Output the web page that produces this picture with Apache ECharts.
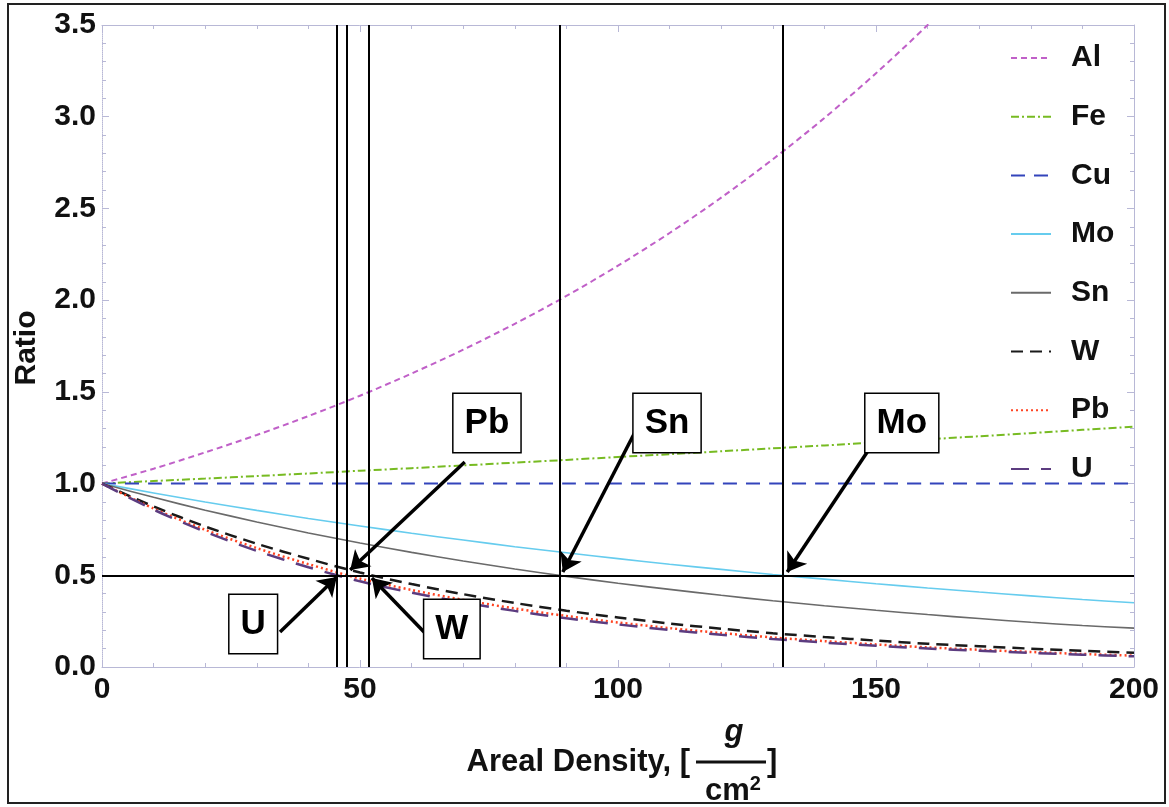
<!DOCTYPE html>
<html>
<head>
<meta charset="utf-8">
<script src="https://cdn.jsdelivr.net/npm/echarts@6/dist/echarts.min.js"></script>
<style>
html,body{margin:0;padding:0;background:#fff;}
#main{width:1169px;height:807px;}
</style>
</head>
<body>
<div id="main"></div>
<script>
// ---- data ----
var density = [0,10,20,30,40,50,60,70,80,90,100,110,120,130,140,150,160,170,180,190,200];
var Al = [1.000,1.081,1.170,1.265,1.368,1.479,1.600,1.730,1.871,2.023,2.188,2.366,2.559,2.768,2.993,3.237,3.500,3.786];
var Fe = [1.000,1.014,1.027,1.041,1.055,1.070,1.084,1.099,1.114,1.129,1.145,1.160,1.176,1.192,1.208,1.224,1.241,1.258,1.275,1.293,1.310];
var Cu = [1.000,1.000,1.000,1.000,1.000,1.000,1.000,1.000,1.000,1.000,1.000,1.000,1.000,1.000,1.000,1.000,1.000,1.000,1.000,1.000,1.000];
var Mo = [1.000,0.949,0.900,0.854,0.810,0.769,0.729,0.692,0.656,0.623,0.591,0.560,0.532,0.504,0.479,0.454,0.431,0.409,0.388,0.368,0.350];
var Sn = [1.000,0.925,0.855,0.791,0.731,0.676,0.625,0.578,0.534,0.494,0.457,0.423,0.391,0.361,0.334,0.309,0.286,0.264,0.244,0.226,0.212];
var W  = [1.000,0.875,0.766,0.672,0.590,0.515,0.452,0.397,0.349,0.307,0.270,0.237,0.209,0.184,0.163,0.144,0.127,0.113,0.100,0.088,0.078];
var Pb = [1.000,0.864,0.748,0.648,0.561,0.482,0.420,0.366,0.319,0.278,0.243,0.212,0.185,0.161,0.141,0.123,0.107,0.094,0.082,0.071,0.062];
var U  = [1.000,0.858,0.737,0.633,0.544,0.467,0.405,0.352,0.306,0.266,0.232,0.202,0.176,0.153,0.133,0.116,0.101,0.088,0.077,0.067,0.058];

// half-value thickness lines (x) and the 0.5 ratio line (y)
var halfLines = [45.5, 47.5, 51.7, 88.8, 132.0];
var halfRatio = 0.5;

// annotation labels and their arrows
var labelNames = ['Pb','Sn','Mo','U','W'];
var labelX = [74.6, 109.5, 155.0, 29.3, 67.8];
var labelY = [1.33, 1.33, 1.33, 0.235, 0.207];
var arrowFrom = [[70.3,1.118],[104.3,1.336],[148.3,1.172],[34.5,0.191],[62.6,0.185]];
var arrowTo   = [[48.1,0.529],[89.3,0.518],[132.8,0.518],[45.5,0.491],[52.3,0.485]];

var xTicks = [0,50,100,150,200];
var yTicks = [0,0.5,1,1.5,2,2.5,3,3.5];

// ---- chart ----
function pairs(vals){ return vals.map(function(v,i){ return [density[i], v]; }); }

var FONT = 'Liberation Sans';
var styles = {
  Al: {color:'#c060c8', type:[6,4], width:2},
  Fe: {color:'#77bb22', type:[8,3,2,3], width:2},
  Cu: {color:'#3344bb', type:[14,9], width:2},
  Mo: {color:'#66ccee', type:'solid', width:1.6},
  Sn: {color:'#6a6a6a', type:'solid', width:1.6},
  W:  {color:'#1a1a1a', type:[12,7], width:2.5},
  Pb: {color:'#ff4422', type:[2,3], width:2.5},
  U:  {color:'#5c3c80', type:[18,12], width:2.5}
};
var seriesData = {Al:Al, Fe:Fe, Cu:Cu, Mo:Mo, Sn:Sn, W:W, Pb:Pb, U:U};
var order = ['Al','Fe','Cu','Mo','Sn','W','Pb','U'];

var series = order.map(function(n){
  var st = styles[n];
  return {
    name:n, type:'line', data:pairs(seriesData[n]), smooth:0.3,
    symbol:'none', showSymbol:false, clip:true, z:3,
    lineStyle:{color:st.color, type:st.type, width:st.width},
    itemStyle:{color:st.color}
  };
});

// reference lines
series.push({
  name:'refs', type:'line', data:[], symbol:'none', z:4, silent:true,
  markLine:{
    symbol:'none', silent:true, animation:false,
    label:{show:false},
    lineStyle:{color:'#000', width:2, type:'solid'},
    data: halfLines.map(function(v){ return {xAxis:v}; }).concat([{yAxis:halfRatio}])
  }
});

// arrows
series.push({
  name:'arrows', type:'lines', coordinateSystem:'cartesian2d', z:5, silent:true,
  symbol:['none','arrow'], symbolSize:[0,18],
  lineStyle:{color:'#000', width:3.5, opacity:1, curveness:0},
  data: arrowFrom.map(function(p,i){ return {coords:[p, arrowTo[i]]}; })
});

// boxed labels
series.push({
  name:'labels', type:'scatter', z:6, silent:true, symbolSize:0.01,
  itemStyle:{opacity:1},
  emphasis:{disabled:true},
  data: labelNames.map(function(n,i){ return {value:[labelX[i], labelY[i]], name:n}; }),
  label:{
    show:true, position:'inside', formatter:function(p){ return p.name; },
    fontFamily:FONT, fontWeight:'bold', fontSize:35, color:'#000', opacity:1, lineHeight:34,
    backgroundColor:'#fff', borderColor:'#000', borderWidth:1.5, padding:[12,11,12,11]
  }
});

var axisCol = '#b8b8d6';
function frameAxis(pos, min, max, interval, len, showLine, lineType){
  return {
    type:'value', min:min, max:max, interval:interval, position:pos,
    axisLine:{show:showLine, onZero:false, lineStyle:{color:axisCol, width:1, type:lineType||'solid'}},
    axisTick:{show:true, inside:true, length:len, lineStyle:{color:axisCol}},
    axisLabel:{show:false}, splitLine:{show:false}
  };
}
var xMajor = frameAxis('bottom', 0, 200, 50, 7, true);
xMajor.axisLabel = {show:true, fontFamily:FONT, fontWeight:'bold', fontSize:30, color:'#111', margin:8,
  formatter:function(v){ return xTicks.indexOf(v)>=0 ? String(v) : ''; }};
var yMajor = frameAxis('left', 0, 3.5, 0.5, 7, true, 'dotted');
yMajor.axisLabel = {show:true, fontFamily:FONT, fontWeight:'bold', fontSize:30, color:'#111', margin:6,
  formatter:function(v){ return yTicks.indexOf(v)>=0 ? v.toFixed(1) : ''; }};

var chart = echarts.init(document.getElementById('main'), null, {renderer:'canvas'});
chart.setOption({
  animation:false,
  backgroundColor:'#fff',
  grid:{left:102, right:35, top:25, bottom:140, containLabel:false},
  legend:{
    data:order, orient:'vertical', left:1010, top:43, padding:0,
    itemWidth:40, itemHeight:14, itemGap:28.7,
    itemStyle:{opacity:0, borderWidth:0},
    textStyle:{fontFamily:FONT, fontWeight:'bold', fontSize:30, color:'#111', lineHeight:30, padding:[0,0,0,15]},
    selectedMode:false
  },
  xAxis:[
    xMajor,
    frameAxis('top', 0, 200, 50, 7, true),
    frameAxis('bottom', 0, 200, 10, 4, false),
    frameAxis('top', 0, 200, 10, 4, false)
  ],
  yAxis:[
    yMajor,
    frameAxis('right', 0, 3.5, 0.5, 7, true),
    frameAxis('left', 0, 3.5, 0.1, 4, false),
    frameAxis('right', 0, 3.5, 0.1, 4, false)
  ],
  series:series,
  graphic:[
    {type:'rect', shape:{x:8, y:4, width:1157, height:799}, style:{fill:'none', stroke:'#222', lineWidth:2}, silent:true, z:0},
    {type:'text', x:27, y:348, rotation:Math.PI/2, silent:true,
      style:{text:'Ratio', fontFamily:FONT, fontWeight:'bold', fontSize:30, fill:'#111', align:'center', verticalAlign:'middle'}},
    {type:'text', x:690, y:762, silent:true,
      style:{text:'Areal Density, [', fontFamily:FONT, fontWeight:'bold', fontSize:31, fill:'#111', align:'right', verticalAlign:'middle'}},
    {type:'text', x:734, y:732, silent:true,
      style:{text:'g', fontFamily:FONT, fontWeight:'bold', fontStyle:'italic', fontSize:31, fill:'#111', align:'center', verticalAlign:'middle'}},
    {type:'line', shape:{x1:696, y1:762, x2:766, y2:762}, style:{stroke:'#111', lineWidth:3}, silent:true},
    {type:'text', x:733, y:791, silent:true,
      style:{text:'cm{s|2}', fontFamily:FONT, fontWeight:'bold', fontSize:31, fill:'#111', align:'center', verticalAlign:'middle',
        rich:{s:{fontFamily:FONT, fontWeight:'bold', fontSize:20, fill:'#111', verticalAlign:'top', padding:[0,0,14,0]}}}},
    {type:'text', x:767, y:762, silent:true,
      style:{text:']', fontFamily:FONT, fontWeight:'bold', fontSize:31, fill:'#111', align:'left', verticalAlign:'middle'}}
  ]
});
</script>
</body>
</html>
